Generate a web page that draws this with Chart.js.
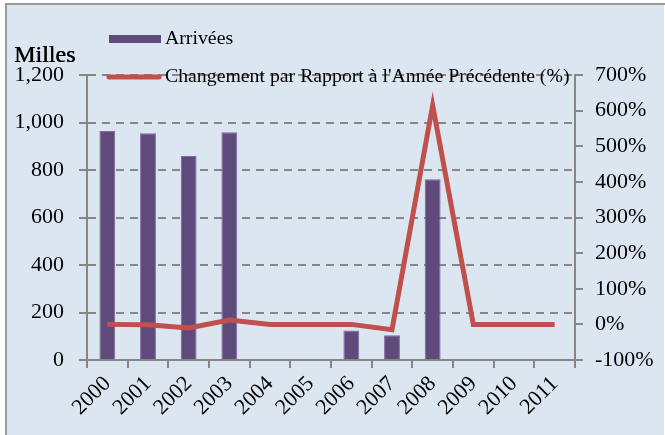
<!DOCTYPE html>
<html>
<head>
<meta charset="utf-8">
<script src="https://cdn.jsdelivr.net/npm/chart.js@4.4.0/dist/chart.umd.min.js"></script>
<style>
  html, body { margin: 0; padding: 0; background: #fff; }
  #wrap { width: 665px; height: 435px; position: relative; }
</style>
</head>
<body>
<div id="wrap"><canvas id="combo" width="665" height="435"></canvas></div>
<script>
// data
var years = ['2000', '2001', '2002', '2003', '2004', '2005', '2006', '2007', '2008', '2009', '2010', '2011'];
var arrivees = [964, 955, 859, 959, 0, 0, 124, 104, 761, 0, 0, 0];
var changement = [0, -1, -10, 12, 0, 0, 0, -15, 615, 0, 0, 0];
var leftTicks = [0, 200, 400, 600, 800, 1000, 1200];
var rightTicks = [-100, 0, 100, 200, 300, 400, 500, 600, 700];

var FONT = "'Liberation Serif', 'DejaVu Serif', serif";
var axisGrey = '#868686';

// frame, background, legend and unit label
var decor = {
    id: 'decor',
    beforeDraw: function(chart) {
        var c = chart.ctx;
        c.save();
        c.fillStyle = '#ffffff';
        c.fillRect(0, 0, chart.width, chart.height);
        c.fillStyle = '#dce6f1';
        c.fillRect(5, 3, chart.width - 6, chart.height - 3);
        c.strokeStyle = '#9a9a9a';
        c.lineWidth = 2;
        c.beginPath();
        c.moveTo(6, chart.height);
        c.lineTo(6, 4);
        c.lineTo(chart.width, 4);
        c.stroke();
        c.restore();
    },
    afterDraw: function(chart) {
        var c = chart.ctx;
        var ds = chart.data.datasets;
        var bar = ds.filter(function(d) { return d.type === 'bar'; })[0];
        var line = ds.filter(function(d) { return d.type === 'line'; })[0];
        c.save();
        c.font = '24px ' + FONT;
        c.fillStyle = '#000';
        c.textBaseline = 'alphabetic';
        c.fillText('Milles', 14, 62);
        c.fillText('Milles', 14.4, 62);

        c.font = '19.8px ' + FONT;
        c.textBaseline = 'middle';
        // bar entry
        c.fillStyle = bar.backgroundColor;
        c.fillRect(109, 35, 52, 8);
        c.fillStyle = '#000';
        c.fillText(bar.label, 165, 39);
        // line entry
        c.strokeStyle = line.borderColor;
        c.lineWidth = 5;
        c.lineCap = 'round';
        c.beginPath();
        c.moveTo(109, 77);
        c.lineTo(159, 77);
        c.stroke();
        c.fillText(line.label, 165, 77);
        c.restore();
    }
};

var ctx = document.getElementById('combo').getContext('2d');
var chart = new Chart(ctx, {
    data: {
        labels: years,
        datasets: [{
            type: 'line',
            label: "Changement par Rapport à l'Année Précédente (%)",
            data: changement,
            yAxisID: 'y1',
            borderColor: '#c0504d',
            backgroundColor: '#c0504d',
            borderWidth: 5,
            pointRadius: 0,
            tension: 0,
            order: 1
        }, {
            type: 'bar',
            label: 'Arrivées',
            data: arrivees,
            yAxisID: 'y',
            backgroundColor: '#604a7b',
            borderColor: '#7d68a0',
            borderWidth: 1,
            barPercentage: 0.78,
            categoryPercentage: 0.5,
            order: 2
        }]
    },
    options: {
        responsive: false,
        animation: false,
        layout: { padding: { left: 5, right: 0, top: 75, bottom: 0 } },
        plugins: {
            legend: { display: false },
            tooltip: { enabled: false }
        },
        scales: {
            x: {
                offset: true,
                afterFit: function(s) { s.height = 75; },
                grid: {
                    offset: true,
                    drawOnChartArea: false,
                    drawTicks: true,
                    tickLength: 8,
                    color: axisGrey,
                    lineWidth: 2
                },
                border: { display: true, color: axisGrey, width: 2 },
                ticks: {
                    autoSkip: false,
                    minRotation: 45,
                    maxRotation: 45,
                    padding: 3,
                    color: '#000',
                    font: { family: FONT, size: 22 }
                }
            },
            y: {
                position: 'left',
                min: 0,
                max: 1200,
                afterFit: function(s) { s.width = 82; },
                afterBuildTicks: function(s) {
                    s.ticks = leftTicks.map(function(v) { return { value: v }; });
                },
                grid: {
                    color: function(c) { return c.tick && c.tick.value === 0 ? 'rgba(0,0,0,0)' : axisGrey; },
                    lineWidth: 2,
                    tickLength: 8,
                    tickColor: axisGrey,
                    tickBorderDash: []
                },
                border: { display: true, color: axisGrey, width: 2, dash: [8, 6] },
                ticks: {
                    padding: 15,
                    color: '#000',
                    font: { family: FONT, size: 22 },
                    callback: function(v) { return v.toLocaleString('en-US'); }
                }
            },
            y1: {
                position: 'right',
                min: -100,
                max: 700,
                afterFit: function(s) { s.width = 90; },
                afterBuildTicks: function(s) {
                    s.ticks = rightTicks.map(function(v) { return { value: v }; });
                },
                grid: {
                    drawOnChartArea: false,
                    tickLength: 8,
                    color: axisGrey,
                    lineWidth: 2
                },
                border: { display: true, color: axisGrey, width: 2 },
                ticks: {
                    padding: 12,
                    color: '#000',
                    font: { family: FONT, size: 22 },
                    callback: function(v) { return v + '%'; }
                }
            }
        }
    },
    plugins: [decor]
});
</script>
</body>
</html>
